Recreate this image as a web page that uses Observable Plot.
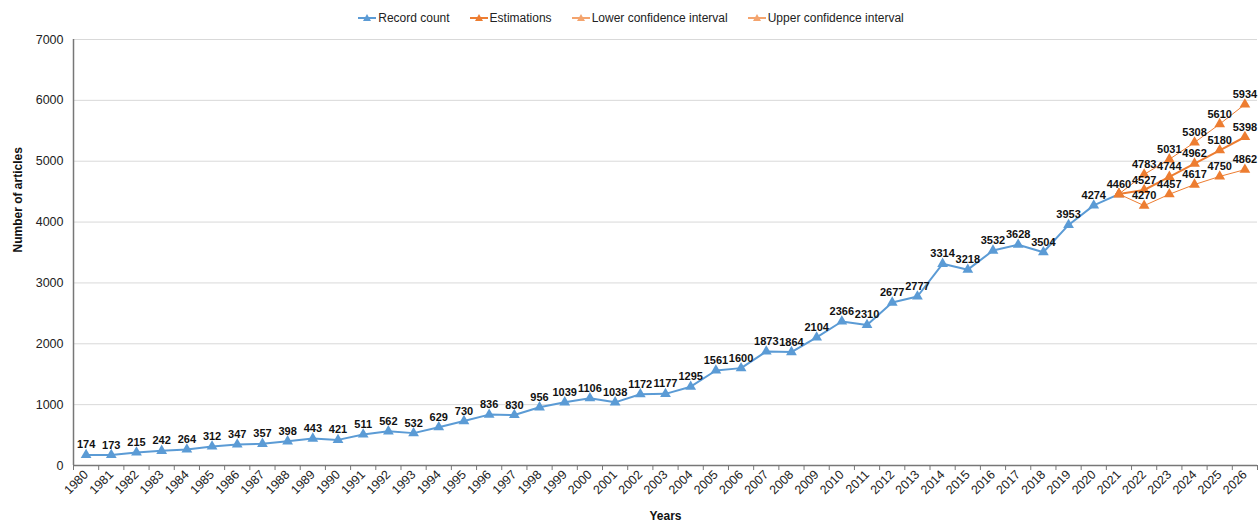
<!DOCTYPE html>
<html>
<head>
<meta charset="utf-8">
<script src="https://cdn.jsdelivr.net/npm/d3@7"></script>
<script src="https://cdn.jsdelivr.net/npm/@observablehq/plot@0.6"></script>
<style>
  body { margin: 0; background: #fff; font-family: "Liberation Sans", Arial, sans-serif; }
  #legend { height: 30px; display: flex; justify-content: center; align-items: center; gap: 20px; font-size: 12px; color: #222; padding-top: 6px; padding-left: 4px; box-sizing: border-box; }
  .item { display: flex; align-items: center; gap: 2px; }
</style>
</head>
<body>
<div id="legend"></div>
<div id="chart"></div>
<script>
const recordYears = [1980,1981,1982,1983,1984,1985,1986,1987,1988,1989,1990,1991,1992,1993,1994,1995,1996,1997,1998,1999,2000,2001,2002,2003,2004,2005,2006,2007,2008,2009,2010,2011,2012,2013,2014,2015,2016,2017,2018,2019,2020,2021];
const recordCount = [174,173,215,242,264,312,347,357,398,443,421,511,562,532,629,730,836,830,956,1039,1106,1038,1172,1177,1295,1561,1600,1873,1864,2104,2366,2310,2677,2777,3314,3218,3532,3628,3504,3953,4274,4460];
const estYears = [2021,2022,2023,2024,2025,2026];
const estimations = [4460,4527,4744,4962,5180,5398];
const lowerCI = [4460,4270,4457,4617,4750,4862];
const upperCI = [4460,4783,5031,5308,5610,5934];
const allYears = [1980,1981,1982,1983,1984,1985,1986,1987,1988,1989,1990,1991,1992,1993,1994,1995,1996,1997,1998,1999,2000,2001,2002,2003,2004,2005,2006,2007,2008,2009,2010,2011,2012,2013,2014,2015,2016,2017,2018,2019,2020,2021,2022,2023,2024,2025,2026];
const yTicks = [0,1000,2000,3000,4000,5000,6000,7000];
const seriesNames = ["Record count","Estimations","Lower confidence interval","Upper confidence interval"];

const blue = "#5b9bd5", orange = "#ed7d31", lightOrange = "#f4a46e";

const rec = recordYears.map((y,i) => ({year: y, value: recordCount[i]}));
const est = estYears.map((y,i) => ({year: y, value: estimations[i]}));
const low = estYears.map((y,i) => ({year: y, value: lowerCI[i]}));
const up = estYears.map((y,i) => ({year: y, value: upperCI[i]}));
const boundaries = [allYears[0]-0.5, ...allYears.map(y => y+0.5)];

// legend
const legendColors = [blue, orange, lightOrange, lightOrange];
const lg = document.getElementById("legend");
seriesNames.forEach((n,i) => {
  const d = document.createElement("div"); d.className = "item";
  d.innerHTML = `<svg width="18" height="10"><line x1="0" y1="5" x2="18" y2="5" stroke="${legendColors[i]}" stroke-width="2"/><path d="M9,1 L13,8 L5,8 Z" fill="${legendColors[i]}"/></svg><span>${n}</span>`;
  lg.appendChild(d);
});

const labelStyle = {fontSize: 11, fontWeight: "bold", fill: "#111", dy: -10};
const tri = {symbol: "triangle", r: 4};

const chart = Plot.plot({
  width: 1258, height: 495,
  marginLeft: 73, marginRight: 1, marginTop: 9, marginBottom: 60,
  style: {fontFamily: "'Liberation Sans', Arial, sans-serif", fontSize: "12px", color: "#222", background: "white"},
  x: {domain: [1979.5, 2026.5], axis: null},
  y: {domain: [0, 7000], axis: null},
  marks: [
    Plot.gridY(yTicks, {stroke: "#d9d9d9", strokeOpacity: 1}),
    Plot.axisY(yTicks, {tickSize: 0, tickPadding: 10, tickFormat: d => String(d), fontSize: 12.5, fill: "#222", label: null}),
    Plot.axisX(boundaries, {tickSize: 5, tickFormat: () => "", stroke: "#777", label: null}),
    Plot.axisX(allYears, {tickSize: 0, tickPadding: 7, tickRotate: -45, tickFormat: d => String(d), fontSize: 12.5, fill: "#222", label: null}),
    Plot.ruleY([0], {stroke: "#777", strokeWidth: 1.5}),
    Plot.ruleX([1979.5], {stroke: "#777", strokeWidth: 1.5}),
    Plot.text(["Number of articles"], {frameAnchor: "left", rotate: -90, dx: -55, fontWeight: "bold", fontSize: 12, fill: "#111"}),
    Plot.text(["Years"], {frameAnchor: "bottom", dy: 54, fontWeight: "bold", fontSize: 12, fill: "#111"}),
    Plot.line(rec, {x: "year", y: "value", stroke: blue, strokeWidth: 2}),
    Plot.line(low, {x: "year", y: "value", stroke: orange, strokeWidth: 1}),
    Plot.line(up, {x: "year", y: "value", stroke: orange, strokeWidth: 1}),
    Plot.line(est, {x: "year", y: "value", stroke: orange, strokeWidth: 2}),
    Plot.dot(rec, {x: "year", y: "value", fill: blue, ...tri}),
    Plot.dot(low, {x: "year", y: "value", fill: orange, ...tri}),
    Plot.dot(up, {x: "year", y: "value", fill: orange, ...tri}),
    Plot.dot(est, {x: "year", y: "value", fill: orange, ...tri}),
    Plot.text(rec.slice(0, -1), {x: "year", y: "value", text: d => String(d.value), ...labelStyle}),
    Plot.text(est, {x: "year", y: "value", text: d => String(d.value), ...labelStyle}),
    Plot.text(low.slice(1), {x: "year", y: "value", text: d => String(d.value), ...labelStyle}),
    Plot.text(up.slice(1), {x: "year", y: "value", text: d => String(d.value), ...labelStyle})
  ]
});
document.getElementById("chart").appendChild(chart);
</script>
</body>
</html>
